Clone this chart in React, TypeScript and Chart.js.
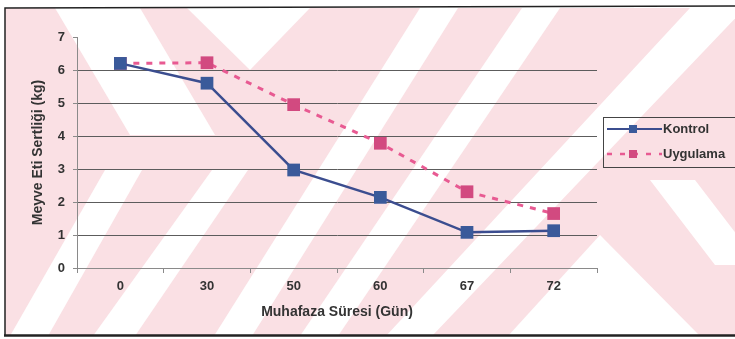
import React, { useEffect, useRef } from "react";
import { Chart, registerables } from "chart.js";

Chart.register(...registerables);

// Storage duration (days) and fruit flesh firmness (kg)
const days = ["0", "30", "50", "60", "67", "72"];
const kontrol = [6.2, 5.6, 2.97, 2.14, 1.08, 1.13];
const uygulama = [6.2, 6.22, 4.95, 3.78, 2.31, 1.65];
const yTickValues = [0, 1, 2, 3, 4, 5, 6, 7];

const FONT = "'Liberation Sans', Arial, sans-serif";
const TEXT = "#333333";
const AXIS = "#8a8a8a";
const GRID = "#5c5c5c";

const KONTROL_LINE = "#3b4d8f";
const KONTROL_MARK = "#3a5a9a";
const UYG_LINE = "#e85a92";
const UYG_MARK = "#d24a80";

// Light stamp printed behind the figure
const STAMP_PINK = "#fae0e4";
const stampWhite: number[][][] = [
  [[55, 8], [140, 8], [215, 135], [130, 135]],
  [[187, 8], [310, 8], [250, 70]],
  [[420, 8], [458, 8], [252, 336], [214, 336]],
  [[522, 8], [560, 8], [338, 336], [300, 336]],
  [[690, 8], [745, 8], [432, 336], [386, 336]],
  [[10, 336], [48, 336], [142, 170], [105, 170]],
  [[93, 336], [135, 336], [248, 170], [212, 170]],
  [[508, 336], [600, 235], [700, 336]],
  [[650, 180], [695, 180], [760, 265], [715, 265]],
];

const stampPlugin = {
  id: "stamp",
  beforeDraw(chart: any) {
    const ctx = chart.ctx as CanvasRenderingContext2D;
    ctx.save();
    ctx.fillStyle = "#ffffff";
    ctx.fillRect(0, 0, chart.width, chart.height);
    ctx.beginPath();
    ctx.rect(5, 8, chart.width - 5, 327);
    ctx.clip();
    ctx.fillStyle = STAMP_PINK;
    ctx.fillRect(5, 8, chart.width - 5, 327);
    ctx.fillStyle = "#ffffff";
    for (const poly of stampWhite) {
      ctx.beginPath();
      poly.forEach(([x, y], i) => (i ? ctx.lineTo(x, y) : ctx.moveTo(x, y)));
      ctx.closePath();
      ctx.fill();
    }
    ctx.restore();

    // frame around the figure
    ctx.save();
    ctx.strokeStyle = "#222";
    ctx.lineWidth = 1.5;
    ctx.beginPath();
    ctx.moveTo(5, 336);
    ctx.lineTo(5, 8);
    ctx.lineTo(chart.width, 6);
    ctx.stroke();
    ctx.lineWidth = 2.5;
    ctx.beginPath();
    ctx.moveTo(4, 335.5);
    ctx.lineTo(chart.width, 335.5);
    ctx.stroke();
    ctx.restore();
  },
};

const legendPlugin = {
  id: "boxLegend",
  afterDraw(chart: any) {
    const ctx = chart.ctx as CanvasRenderingContext2D;
    const bx = 603.5;
    const by = 117.5;
    ctx.save();
    ctx.strokeStyle = "#444";
    ctx.lineWidth = 1;
    ctx.strokeRect(bx, by, 150, 50);
    const rows = [129, 154];
    chart.data.datasets.forEach((ds: any, i: number) => {
      const y = rows[i];
      ctx.save();
      ctx.strokeStyle = ds.borderColor;
      ctx.lineWidth = i === 0 ? 2 : 2.5;
      ctx.setLineDash(i === 0 ? [] : [5, 8]);
      ctx.beginPath();
      ctx.moveTo(607, y);
      ctx.lineTo(662, y);
      ctx.stroke();
      ctx.restore();
      ctx.fillStyle = ds.pointBackgroundColor;
      ctx.fillRect(629, y - 4, 8, 8);
      ctx.fillStyle = TEXT;
      ctx.font = `bold 13px ${FONT}`;
      ctx.textBaseline = "middle";
      ctx.textAlign = "left";
      ctx.fillText(ds.label, 663, y);
    });
    ctx.restore();
  },
};

export default function App() {
  const canvasRef = useRef<HTMLCanvasElement | null>(null);

  useEffect(() => {
    if (!canvasRef.current) return;
    const chart = new Chart(canvasRef.current, {
      type: "line",
      data: {
        labels: days,
        datasets: [
          {
            label: "Kontrol",
            data: kontrol,
            borderColor: KONTROL_LINE,
            borderWidth: 2.5,
            pointStyle: "rect",
            pointRadius: 9,
            pointBackgroundColor: KONTROL_MARK,
            pointBorderColor: KONTROL_MARK,
            pointBorderWidth: 0,
            tension: 0,
          },
          {
            label: "Uygulama",
            data: uygulama,
            borderColor: UYG_LINE,
            borderWidth: 3,
            borderDash: [6, 7],
            pointStyle: "rect",
            pointRadius: 9,
            pointBackgroundColor: UYG_MARK,
            pointBorderColor: UYG_MARK,
            pointBorderWidth: 0,
            tension: 0,
          },
        ],
      },
      options: {
        responsive: false,
        animation: false,
        devicePixelRatio: 1,
        layout: { padding: { left: 0, top: 37, right: 138, bottom: 0 } },
        plugins: {
          legend: { display: false },
          tooltip: { enabled: false },
        },
        scales: {
          x: {
            offset: true,
            grid: {
              offset: true,
              drawOnChartArea: false,
              tickLength: 5,
              tickColor: AXIS,
            },
            border: { color: AXIS, width: 1 },
            ticks: {
              padding: 6,
              color: TEXT,
              font: { family: FONT, size: 13, weight: "bold" },
            },
            title: {
              display: true,
              text: "Muhafaza Süresi (Gün)",
              color: TEXT,
              font: { family: FONT, size: 14, weight: "bold" },
              padding: { top: 0, bottom: 18 },
            },
            afterFit: (s: any) => {
              s.height = 71;
            },
          },
          y: {
            min: 0,
            max: 7,
            afterBuildTicks: (s: any) => {
              s.ticks = yTickValues.map((v) => ({ value: v }));
            },
            grid: {
              color: (c: any) =>
                c.tick && c.tick.value === 7
                  ? "rgba(0,0,0,0)"
                  : c.tick && c.tick.value === 0
                  ? AXIS
                  : GRID,
              tickColor: AXIS,
              tickLength: 4,
              lineWidth: 1,
            },
            border: { color: AXIS, width: 1 },
            ticks: {
              padding: 8,
              color: TEXT,
              font: { family: FONT, size: 13, weight: "bold" },
            },
            title: {
              display: true,
              text: "Meyve Eti Sertliği (kg)",
              color: TEXT,
              font: { family: FONT, size: 14, weight: "bold" },
              padding: { top: 30, bottom: 0 },
            },
            afterFit: (s: any) => {
              s.width = 77;
            },
          },
        },
      },
      plugins: [stampPlugin, legendPlugin],
    });
    return () => chart.destroy();
  }, []);

  return (
    <div style={{ position: "absolute", left: 0, top: 0, width: 735, height: 339 }}>
      <canvas ref={canvasRef} width={735} height={339} style={{ display: "block" }} />
    </div>
  );
}
